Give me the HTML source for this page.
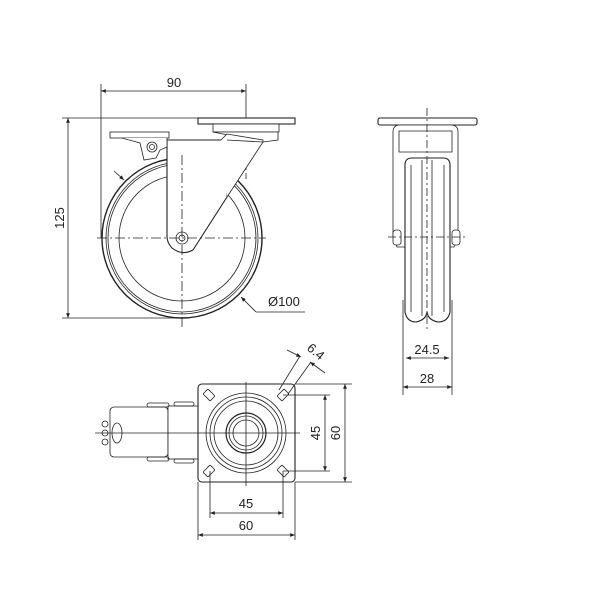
<!DOCTYPE html>
<html><head><meta charset="utf-8"><style>html,body{margin:0;padding:0;background:#fff}svg{display:block}text{font-family:"Liberation Sans",sans-serif;font-size:13px;fill:#222}</style></head>
<body>
<svg width="600" height="600" viewBox="0 0 600 600" xmlns="http://www.w3.org/2000/svg">
<defs>
<marker id="a" viewBox="0 0 10 10" refX="10" refY="5" markerWidth="8" markerHeight="6" orient="auto-start-reverse"><path d="M0,1 L10,5 L0,9 z" fill="#222"/></marker>
</defs>
<g fill="none" stroke="#222" stroke-width="0.8">
<line x1="101" y1="84" x2="101" y2="238"/>
<line x1="246" y1="84" x2="246" y2="120"/>
<line x1="246" y1="128" x2="246" y2="182" stroke-dasharray="6,3"/>
<line x1="101" y1="91" x2="246" y2="91" marker-start="url(#a)" marker-end="url(#a)"/>
<line x1="62" y1="118" x2="200" y2="118"/>
<line x1="62" y1="318" x2="185" y2="318"/>
<line x1="68" y1="118" x2="68" y2="318" marker-start="url(#a)" marker-end="url(#a)"/>
<circle cx="182" cy="238" r="80" stroke-width="1.4"/>
<circle cx="182" cy="238" r="76"/>
<circle cx="182" cy="238" r="74"/>
<circle cx="182" cy="238" r="63"/>
<rect x="198" y="118" width="97" height="6" fill="#fff" stroke-width="1.1"/>
<rect x="213" y="124" width="66" height="8" fill="#fff"/>
<path d="M213,132 L278,132 L278,140 L263,142 Z" fill="#fff"/>
<path d="M167,140 L227,140 L227,197 L193,250 Q182,256 172,248 Q167,243 167,236 Z" fill="#fff" stroke-width="1.1"/>
<path d="M221,140 L227,134 L263,140 L263,142 L227,197" fill="#fff"/>
<line x1="227" y1="140" x2="263" y2="142"/>
<circle cx="182" cy="238" r="6" fill="#fff"/>
<circle cx="182" cy="238" r="3"/>
<rect x="110" y="132" width="59" height="6" fill="#fff"/>
<path d="M122,138 L140,143 L144,160 L156,158 L160,150 L167,147 L167,138" fill="#fff"/>
<circle cx="152" cy="147" r="5" fill="#fff"/>
<circle cx="152" cy="147" r="2.5"/>
<line x1="114" y1="171" x2="124" y2="180" marker-end="url(#a)"/>
<line x1="97" y1="238" x2="266" y2="238" stroke-dasharray="10,3,2,3"/>
<line x1="182" y1="155" x2="182" y2="328" stroke-dasharray="10,3,2,3"/>
<line x1="256" y1="312" x2="241" y2="297" marker-end="url(#a)"/>
<line x1="256" y1="312" x2="305" y2="312"/>
<rect x="378" y="118" width="99" height="7" rx="2" fill="#fff" stroke-width="1.1"/>
<path d="M393,132 Q393,125 400,125 L451,125 Q458,125 458,132 L458,236 L454,247 L397,247 L393,236 Z" fill="#fff"/>
<path d="M399,131 L452,131 L452,152 L399,152 Z"/>
<path d="M405,165 Q405,158 412,158 L443,158 Q450,158 450,165 L450,312 Q448,322 438,322 Q428,320 427,312 Q426,320 416,322 Q407,322 405,312 Z" fill="#fff" stroke-width="1.1"/>
<line x1="411" y1="165" x2="411" y2="312"/>
<line x1="444" y1="165" x2="444" y2="312"/>
<line x1="422" y1="160" x2="422" y2="316"/>
<line x1="432" y1="160" x2="432" y2="316"/>
<rect x="393" y="230" width="8" height="15" rx="3" fill="#fff"/>
<rect x="452" y="230" width="8" height="15" rx="3" fill="#fff"/>
<line x1="388" y1="237" x2="466" y2="237" stroke-dasharray="8,3,2,3"/>
<line x1="427" y1="108" x2="427" y2="330" stroke-dasharray="8,3,2,3"/>
<line x1="403" y1="300" x2="403" y2="395"/>
<line x1="452" y1="300" x2="452" y2="395"/>
<line x1="406" y1="358" x2="449" y2="358" marker-start="url(#a)" marker-end="url(#a)"/>
<line x1="403" y1="387" x2="452" y2="387" marker-start="url(#a)" marker-end="url(#a)"/>
<rect x="110" y="407" width="58" height="50" rx="4" fill="#fff"/>
<rect x="168" y="406" width="30" height="53" fill="#fff"/>
<ellipse cx="117" cy="433" rx="5" ry="10"/>
<circle cx="105" cy="424" r="3"/><circle cx="105" cy="433" r="3"/><circle cx="105" cy="442" r="3"/>
<rect x="147" y="403" width="22" height="4" rx="2"/>
<rect x="147" y="457" width="22" height="4" rx="2"/>
<rect x="174" y="402" width="20" height="4" rx="2"/>
<rect x="174" y="459" width="20" height="4" rx="2"/>
<rect x="198" y="384" width="97" height="98" rx="4" fill="#fff" stroke-width="1.1"/>
<circle cx="246" cy="433" r="40"/>
<circle cx="246" cy="433" r="36"/>
<circle cx="246" cy="433" r="32"/>
<circle cx="246" cy="433" r="20" stroke-width="1.2"/>
<circle cx="246" cy="433" r="17"/>
<circle cx="246" cy="433" r="13"/>
<g transform="translate(209,395) rotate(45)"><rect x="-5" y="-3.5" width="10" height="7" rx="1"/></g>
<g transform="translate(283,395) rotate(-45)"><rect x="-5" y="-3.5" width="10" height="7" rx="1"/></g>
<g transform="translate(209,471) rotate(-45)"><rect x="-5" y="-3.5" width="10" height="7" rx="1"/></g>
<g transform="translate(283,471) rotate(45)"><rect x="-5" y="-3.5" width="10" height="7" rx="1"/></g>
<line x1="95" y1="433" x2="300" y2="433"/>
<line x1="246" y1="382" x2="246" y2="486"/>
<line x1="283" y1="395" x2="330" y2="395"/>
<line x1="283" y1="471" x2="330" y2="471"/>
<line x1="295" y1="384" x2="352" y2="384"/>
<line x1="295" y1="482" x2="352" y2="482"/>
<line x1="325" y1="395" x2="325" y2="471" marker-start="url(#a)" marker-end="url(#a)"/>
<line x1="345" y1="384" x2="345" y2="482" marker-start="url(#a)" marker-end="url(#a)"/>
<line x1="210" y1="471" x2="210" y2="518"/>
<line x1="283" y1="471" x2="283" y2="518"/>
<line x1="198" y1="482" x2="198" y2="540"/>
<line x1="295" y1="482" x2="295" y2="540"/>
<line x1="210" y1="513" x2="283" y2="513" marker-start="url(#a)" marker-end="url(#a)"/>
<line x1="198" y1="535" x2="295" y2="535" marker-start="url(#a)" marker-end="url(#a)"/>
<line x1="279" y1="390" x2="300" y2="356"/>
<line x1="288" y1="394" x2="311" y2="362"/>
<line x1="287" y1="350" x2="301" y2="357" marker-end="url(#a)"/>
<line x1="325" y1="373" x2="310" y2="362" marker-end="url(#a)"/>
</g>
<text x="174" y="87" text-anchor="middle">90</text>
<text transform="translate(64,218) rotate(-90)" text-anchor="middle">125</text>
<text x="268" y="306">Ø100</text>
<text x="427" y="354" text-anchor="middle">24.5</text>
<text x="427" y="383" text-anchor="middle">28</text>
<text x="246" y="508" text-anchor="middle">45</text>
<text x="246" y="530" text-anchor="middle">60</text>
<text transform="translate(320,433) rotate(-90)" text-anchor="middle">45</text>
<text transform="translate(340,433) rotate(-90)" text-anchor="middle">60</text>
<text transform="translate(313,355) rotate(40)" text-anchor="middle">6.4</text>
</svg>
</body></html>
